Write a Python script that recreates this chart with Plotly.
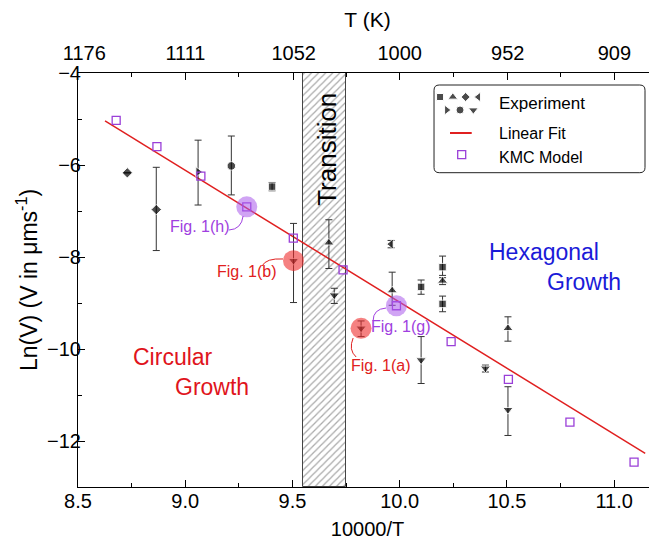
import numpy as np
import plotly.graph_objects as go

# ---------------- data ----------------
kmc_x = [8.678, 8.868, 9.073, 9.287, 9.504, 9.736, 9.985, 10.240, 10.507, 10.794, 11.093]
kmc_y = [-5.03, -5.60, -6.24, -6.91, -7.59, -8.28, -9.06, -9.84, -10.66, -11.59, -12.46]

fit_x = [8.626, 11.145]
fit_y = [-5.04, -12.27]

exp_x = [8.73, 8.865, 9.06, 9.215, 9.405, 9.505, 9.67, 9.695, 9.82, 9.96, 9.965,
         10.10, 10.10, 10.20, 10.20, 10.20, 10.40, 10.505, 10.505]
exp_y = [-6.17, -6.97, -6.15, -6.02, -6.47, -8.08, -7.69, -8.83, -9.55, -7.72, -8.73,
         -8.65, -10.24, -8.22, -8.52, -9.02, -10.42, -9.55, -11.32]
exp_hi = [-6.17, -6.05, -5.46, -5.37, -6.38, -7.27, -7.19, -8.68, -9.39, -7.64, -8.33,
          -8.50, -9.73, -7.98, -8.45, -8.85, -10.35, -9.30, -10.82]
exp_lo = [-6.17, -7.86, -6.87, -6.65, -6.56, -8.99, -8.25, -9.01, -9.73, -7.80, -9.05,
          -8.81, -10.75, -8.40, -8.60, -9.19, -10.50, -9.83, -11.88]
exp_symbol = ["diamond", "diamond", "triangle-right", "circle", "square", "triangle-down",
              "triangle-up", "triangle-down", "triangle-down", "triangle-left", "triangle-up",
              "square", "triangle-down", "square", "triangle-up", "square", "triangle-down",
              "triangle-up", "triangle-down"]

hl_x = [9.287, 9.985, 9.505, 9.82]
hl_y = [-6.91, -9.06, -8.08, -9.55]
hl_kind = ["kmc", "kmc", "exp", "exp"]
hl_label = ["Fig. 1(h)", "Fig. 1(g)", "Fig. 1(b)", "Fig. 1(a)"]

transition_x = [9.55, 9.75]

T_ticks = [1176, 1111, 1052, 1000, 952, 909]

x_range = [8.5, 11.2]
y_range = [-13, -4]

# ---------------- styles ----------------
FONT = "Arial, Liberation Sans, sans-serif"
PURPLE = "#9a3fd8"
RED_LINE = "#e02020"
RED_TXT = "#e0141c"
BLUE_TXT = "#1a1ad8"
sym_size = {"diamond": 8, "circle": 8.5, "square": 7.5, "triangle-up": 9,
            "triangle-down": 9, "triangle-left": 9, "triangle-right": 9}
hl_color = {"kmc": "rgba(170,90,235,0.55)", "exp": "rgba(238,45,45,0.6)"}
hl_text_color = {"kmc": "#a040e0", "exp": "#e02020"}

fig = go.Figure()

# transition band (hatched)
fig.add_trace(go.Bar(
    x=[(transition_x[0] + transition_x[1]) / 2], y=[y_range[1] - y_range[0]],
    base=[y_range[0]], width=[transition_x[1] - transition_x[0]],
    marker=dict(color="white", line=dict(color="#444", width=1),
                pattern=dict(shape="/", fgcolor="#555", bgcolor="white", size=5, solidity=0.25)),
    showlegend=False, hoverinfo="skip"))

# linear fit
fig.add_trace(go.Scatter(x=fit_x, y=fit_y, mode="lines",
                         line=dict(color=RED_LINE, width=1.5), showlegend=False))

# experiment
err_plus = [h - y for h, y in zip(exp_hi, exp_y)]
err_minus = [y - l for l, y in zip(exp_lo, exp_y)]
fig.add_trace(go.Scatter(
    x=exp_x, y=exp_y, mode="markers",
    marker=dict(symbol=exp_symbol, size=[sym_size[s] for s in exp_symbol], color="black"),
    error_y=dict(type="data", symmetric=False, array=err_plus, arrayminus=err_minus,
                 color="#333", thickness=1, width=3.5),
    showlegend=False))

# KMC
fig.add_trace(go.Scatter(
    x=kmc_x, y=kmc_y, mode="markers",
    marker=dict(symbol="square-open", size=8, color=PURPLE, line=dict(width=1.3, color=PURPLE)),
    showlegend=False))

# highlight circles
fig.add_trace(go.Scatter(
    x=hl_x, y=hl_y, mode="markers",
    marker=dict(symbol="circle", size=21, color=[hl_color[k] for k in hl_kind], line=dict(width=0)),
    showlegend=False, hoverinfo="skip"))

# top axis carrier
fig.add_trace(go.Scatter(x=[x_range[0]], y=[y_range[0]], xaxis="x2", mode="markers",
                         marker=dict(opacity=0), showlegend=False, hoverinfo="skip"))

# ---------------- annotations ----------------
ann = []
label_pos = {"Fig. 1(h)": (9.071, -7.33), "Fig. 1(g)": (10.007, -9.515),
             "Fig. 1(b)": (9.289, -8.32), "Fig. 1(a)": (9.914, -10.365)}
for lab, kind in zip(hl_label, hl_kind):
    lx, ly = label_pos[lab]
    ann.append(dict(x=lx, y=ly, xref="x", yref="y", text=lab, showarrow=False,
                    xanchor="center", yanchor="middle",
                    font=dict(size=16, color=hl_text_color[kind], family=FONT)))

def txt(x, y, s, size, color, **kw):
    d = dict(x=x, y=y, xref="x", yref="y", text=s, showarrow=False,
             xanchor="center", yanchor="middle", font=dict(size=size, color=color, family=FONT))
    d.update(kw)
    return d

ann += [
    txt(9.661, -5.65, "Transition", 26, "black", textangle=-90),
    txt(8.943, -10.17, "Circular", 23, RED_TXT),
    txt(9.125, -10.83, "Growth", 23, RED_TXT),
    txt(10.673, -7.89, "Hexagonal", 23, BLUE_TXT),
    txt(10.858, -8.54, "Growth", 23, BLUE_TXT),
]
for s, yy, fs in [("Experiment", 0.9268, 17), ("Linear Fit", 0.8546, 16), ("KMC Model", 0.7964, 16)]:
    ann.append(dict(x=0.7231, y=yy, xref="paper", yref="paper", text=s, showarrow=False,
                    xanchor="left", yanchor="middle",
                    font=dict(size=fs, color="black", family=FONT)))

# ---------------- shapes ----------------
shapes = []
conn = {
    "Fig. 1(h)": ("#a040e0", (9.204, -7.413), (9.262, -7.40), (9.270, -7.109)),
    "Fig. 1(b)": ("#e02020", (9.358, -8.196), (9.377, -8.022), (9.456, -8.043)),
    "Fig. 1(g)": ("#a040e0", (9.876, -9.391), (9.876, -9.130), (9.937, -9.109)),
    "Fig. 1(a)": ("#e02020", (9.783, -9.761), (9.760, -10.022), (9.797, -10.174)),
}
for lab, (c, p0, p1, p2) in conn.items():
    shapes.append(dict(type="path", xref="x", yref="y",
                       path=f"M {p0[0]},{p0[1]} Q {p1[0]},{p1[1]} {p2[0]},{p2[1]}",
                       line=dict(color=c, width=1)))

x0, x1, yb, yt = 0.6149, 0.9793, 0.7592, 0.9710
rx, ry = 0.009, 0.0125
shapes.append(dict(type="path", xref="paper", yref="paper",
                   path=(f"M {x0+rx},{yt} L {x1-rx},{yt} Q {x1},{yt} {x1},{yt-ry} "
                         f"L {x1},{yb+ry} Q {x1},{yb} {x1-rx},{yb} L {x0+rx},{yb} "
                         f"Q {x0},{yb} {x0},{yb+ry} L {x0},{yt-ry} Q {x0},{yt} {x0+rx},{yt} Z"),
                   line=dict(color="#222", width=1), fillcolor="rgba(255,255,255,0)"))
shapes.append(dict(type="line", xref="paper", yref="paper", x0=0.6425, x1=0.6800,
                   y0=0.8551, y1=0.8551, line=dict(color=RED_LINE, width=2)))

leg_sym_row1 = ["square", "triangle-up", "diamond", "triangle-left"]
leg_sym_row2 = ["triangle-right", "circle", "triangle-down"]
gx1 = [0.6253 + i * 0.0221 for i in range(4)]
gx2 = [0.6368 + i * 0.0230 for i in range(3)]
fig.add_trace(go.Scatter(
    x=gx1 + gx2, y=[0.942] * 4 + [0.9106] * 3, mode="markers", xaxis="x3", yaxis="y3",
    marker=dict(symbol=leg_sym_row1 + leg_sym_row2, color="black",
                size=[7, 8.5, 7, 8.5, 8.5, 8, 8.5]),
    showlegend=False, hoverinfo="skip"))
fig.add_trace(go.Scatter(
    x=[0.6627], y=[0.8027], mode="markers", xaxis="x3", yaxis="y3",
    marker=dict(symbol="square-open", size=8, color=PURPLE, line=dict(width=1.3, color=PURPLE)),
    showlegend=False, hoverinfo="skip"))

top_text = [str(t) for t in T_ticks]
top_text[0] = "\u00a0\u00a0" + top_text[0]

tick_font = dict(size=20, color="black", family=FONT)
# page body has an 8px default margin: figure is sized/offset to fill the 657x548 window
fig.update_layout(
    width=649, height=540,
    margin=dict(l=70, r=0, t=65, b=61, autoexpand=False),
    paper_bgcolor="white", plot_bgcolor="white",
    font=dict(family=FONT, color="black"),
    showlegend=False,
    xaxis=dict(range=x_range, tick0=8.5, dtick=0.5, tickformat=".1f", ticks="inside", ticklen=7,
               tickcolor="black", showline=True, linecolor="black", linewidth=1, showgrid=False,
               zeroline=False, tickfont=tick_font, automargin=False, ticklabelstandoff=-4,
               minor=dict(dtick=0.25, tick0=8.5, ticks="inside", ticklen=4, tickcolor="black"),
               title=dict(text="10000/T", font=dict(size=20, family=FONT), standoff=10)),
    xaxis2=dict(range=x_range, overlaying="x", side="top", anchor="y",
                tickmode="array", tickvals=[10000 / t for t in T_ticks],
                ticktext=top_text, ticks="inside", ticklen=7, tickcolor="black",
                showline=True, linecolor="black", linewidth=1, showgrid=False, zeroline=False,
                tickfont=tick_font, automargin=False, ticklabelstandoff=4,
                minor=dict(tickmode="array", tickvals=list(np.arange(8.75, 11.2, 0.5)),
                           ticks="inside", ticklen=4, tickcolor="black"),
                title=dict(text="T (K)", font=dict(size=21, family=FONT), standoff=9)),
    yaxis=dict(range=y_range, tick0=-4, dtick=2, ticks="inside", ticklen=7, tickcolor="black",
               showline=True, linecolor="black", linewidth=1, mirror="ticks", showgrid=False,
               zeroline=False, tickfont=tick_font, automargin=False, ticklabelstandoff=-8,
               minor=dict(dtick=1, tick0=-4, ticks="inside", ticklen=4, tickcolor="black"),
               title=dict(text="Ln(V) (V in μms<sup>-1</sup>)", font=dict(size=23, family=FONT),
                          standoff=3)),
    xaxis3=dict(range=[0, 1], overlaying="x", visible=False, anchor="y3"),
    yaxis3=dict(range=[0, 1], overlaying="y", visible=False, anchor="x3"),
    annotations=ann, shapes=shapes, bargap=0,
)

fig.write_html("out.html")
